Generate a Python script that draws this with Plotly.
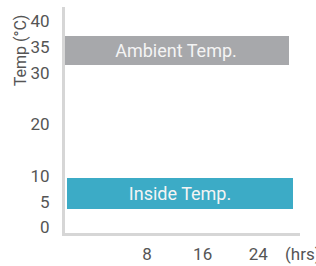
import plotly.graph_objects as go

# Data
series_names = ["Ambient Temp.", "Inside Temp."]
temp_low = [31.5, 3.6]      # °C
temp_high = [37.1, 9.6]     # °C
hour_start = [-3.8, -3.8]   # hrs
hour_end = [28.7, 28.7]     # hrs
bar_colors = ["#a7a8ab", "#3cabc6"]

y_tickvals = [0, 5, 10, 20, 30, 35, 40]
x_tickvals = [8, 16, 24]
x_unit = "(hrs)"
y_title = "Temp (°C)"

FONT = "Roboto"
TICK_COLOR = "#555555"
AXIS_COLOR = "#d6d6d6"

fig = go.Figure()
for name, lo, hi, xs, xe, c in zip(series_names, temp_low, temp_high, hour_start, hour_end, bar_colors):
    fig.add_trace(go.Bar(
        x=[(xs + xe) / 2], y=[hi - lo], base=[lo], width=[xe - xs],
        marker=dict(color=c, line=dict(width=0)),
        text=[name], textposition="inside", insidetextanchor="middle",
        textfont=dict(family=FONT, size=18, color="#f4f4f4"),
        hoverinfo="skip", showlegend=False,
    ))

fig.update_layout(
    width=316, height=266,
    margin=dict(l=65, r=16, t=7, b=33),
    paper_bgcolor="white", plot_bgcolor="white",
    font=dict(family=FONT, size=17, color=TICK_COLOR),
    bargap=0,
    xaxis=dict(range=[-3.8, 30.0], tickvals=x_tickvals, ticktext=[str(v) for v in x_tickvals],
               showline=True, linecolor=AXIS_COLOR, linewidth=3, showgrid=False, zeroline=False,
               automargin=False,
               ticks="", ticklabelstandoff=4, tickfont=dict(size=17, color=TICK_COLOR)),
    yaxis=dict(range=[-1.1, 42.8], tickvals=y_tickvals, ticktext=[str(v) for v in y_tickvals],
               showline=True, linecolor=AXIS_COLOR, linewidth=3, showgrid=False, zeroline=False,
               automargin=False,
               ticks="", ticklabelstandoff=9, tickfont=dict(size=17, color=TICK_COLOR)),
    annotations=[
        dict(text=x_unit, xref="paper", yref="paper", x=0.928, y=-0.093,
             xanchor="left", yanchor="middle", showarrow=False,
             font=dict(family=FONT, size=17, color=TICK_COLOR)),
        dict(text=y_title, xref="paper", yref="paper", x=-0.191, y=0.805,
             xanchor="center", yanchor="middle", textangle=-90, showarrow=False,
             font=dict(family=FONT, size=16, color=TICK_COLOR)),
    ],
)

fig.write_html("out.html", config={"displayModeBar": False},
               post_script="document.body.style.margin='0';")
